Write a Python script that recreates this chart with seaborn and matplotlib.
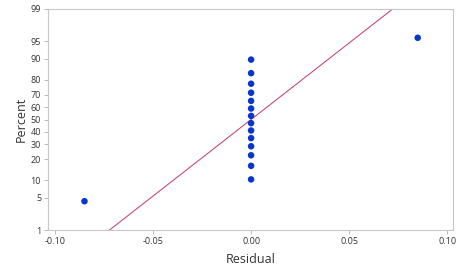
import numpy as np
import pandas as pd
import matplotlib
matplotlib.use("Agg")
import matplotlib.pyplot as plt
import seaborn as sns
from statistics import NormalDist

residuals = [-0.085] + [0.0] * 14 + [0.085]
y_ticks = [1, 5, 10, 20, 30, 40, 50, 60, 70, 80, 90, 95, 99]
x_ticks = [-0.10, -0.05, 0.00, 0.05, 0.10]

sns.set_theme(style="white")
plt.rcParams['font.family'] = ['Open Sans', 'DejaVu Sans']

nd = NormalDist()
_inv_cdf = np.vectorize(lambda v: nd.inv_cdf(v / 100.0), otypes=[float])
_cdf = np.vectorize(lambda v: nd.cdf(v) * 100.0, otypes=[float])

def fwd(p):
    p = np.clip(np.asarray(p, dtype=float), 1e-6, 100 - 1e-6)
    return _inv_cdf(p)
def inv(z):
    z = np.asarray(z, dtype=float)
    return _cdf(z)

n = len(residuals)
x_sorted = np.sort(np.array(residuals))
ranks = np.arange(1, n + 1)
pct = (ranks - 0.3) / (n + 0.4) * 100
df = pd.DataFrame({"Residual": x_sorted, "Percent": pct})

mu = float(np.mean(residuals))
sd = float(np.std(residuals, ddof=1))
line_p = np.array([0.5, 99.5])
line_x = mu + sd * fwd(line_p)
line_df = pd.DataFrame({"Residual": line_x, "Percent": line_p})

fig = plt.figure(figsize=(4.74, 2.66), dpi=100)
ax = fig.add_axes([48 / 474, 36 / 266, 405 / 474, 221 / 266])
ax.set_yscale('function', functions=(fwd, inv))

sns.lineplot(data=line_df, x="Residual", y="Percent", ax=ax, color="#C2456A",
             linewidth=0.75, sort=False)
sns.scatterplot(data=df, x="Residual", y="Percent", ax=ax, color="#0636CC",
                s=22, edgecolor="none", zorder=3)

ax.set_xlim(-0.1036, 0.103)
ax.set_ylim(1, 99)
ax.set_yticks(y_ticks)
ax.set_yticklabels([str(t) for t in y_ticks])
ax.set_xticks(x_ticks)
ax.set_xticklabels([f"{t:.2f}" for t in x_ticks])
ax.minorticks_off()

for s in ax.spines.values():
    s.set_color("#C8C8C8")
    s.set_linewidth(0.8)
ax.tick_params(axis='both', which='major', length=3, width=0.6, color="#B0B0B0",
               labelsize=6.5, labelcolor="#333333", pad=2, left=True, bottom=True)

ax.set_xlabel("Residual", fontsize=9, color="#333333", labelpad=5)
ax.set_ylabel("Percent", fontsize=9, color="#333333", labelpad=2)

fig.savefig("out.png", dpi=100)
